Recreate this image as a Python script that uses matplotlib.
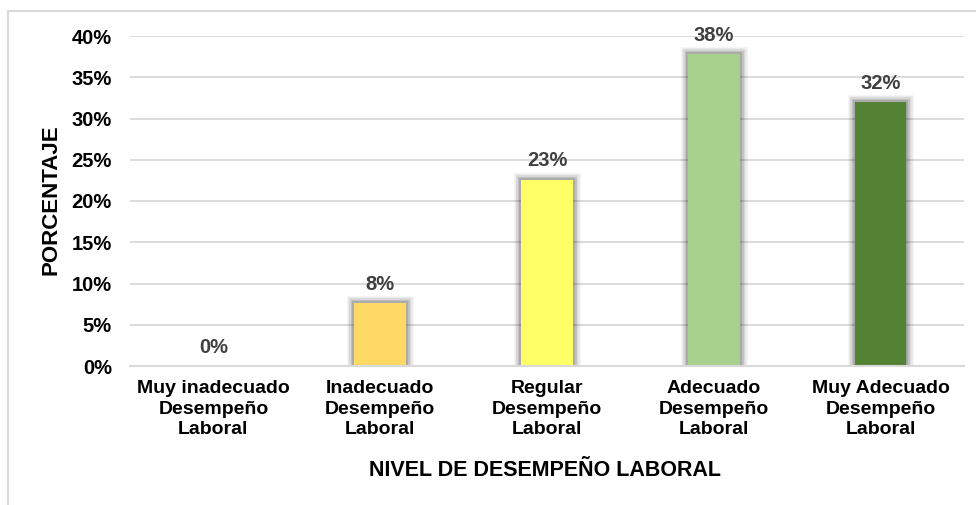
import matplotlib
matplotlib.use("Agg")
import matplotlib.pyplot as plt
import matplotlib.patheffects as pe
from matplotlib.lines import Line2D

# Survey results: job performance level distribution (%)
categories = [
    "Muy inadecuado\nDesempeño\nLaboral",
    "Inadecuado\nDesempeño\nLaboral",
    "Regular\nDesempeño\nLaboral",
    "Adecuado\nDesempeño\nLaboral",
    "Muy Adecuado\nDesempeño\nLaboral",
]
percentages = [0.0, 7.6, 22.6, 37.8, 32.0]
bar_colors = ["#FFD966", "#FFD966", "#FFFF66", "#A9D18E", "#548235"]
yticks = [0, 5, 10, 15, 20, 25, 30, 35, 40]

plt.rcParams["font.family"] = ["Liberation Sans", "DejaVu Sans"]

fig = plt.figure(figsize=(9.76, 5.05), dpi=100)
ax = fig.add_axes([130 / 976, 1 - 366 / 505, 834 / 976, 330 / 505])

x = range(len(categories))
bars = ax.bar(x, percentages, width=0.31, color=bar_colors, zorder=3)

# soft gray glow around each bar
glow = [pe.Stroke(linewidth=w, foreground="#000000", alpha=a)
        for w, a in [(11, 0.04), (9, 0.05), (7, 0.07), (5, 0.09), (3, 0.12)]]
glow.append(pe.Normal())
for b, v in zip(bars, percentages):
    if v > 0:
        b.set_path_effects(glow)
    ax.annotate(f"{v:.0f}%", (b.get_x() + b.get_width() / 2, v),
                xytext=(0, 9.5), textcoords="offset points",
                ha="center", va="baseline", fontsize=14.5,
                fontweight="bold", color="#404040", zorder=4)

ax.set_xlim(-0.5, len(categories) - 0.5)
ax.set_ylim(0, 40)
ax.set_yticks(yticks)
ax.set_yticklabels([f"{t}%" for t in yticks], fontsize=14.5, fontweight="bold")
ax.tick_params(axis="y", length=0, pad=13)
ax.set_xticks(list(x))
ax.set_xticklabels(categories, fontsize=14, fontweight="bold", linespacing=1.28)
ax.tick_params(axis="x", length=0, pad=10)

ax.grid(axis="y", color="#D9D9D9", linewidth=1.3, zorder=0)
for s in ["top", "right", "left"]:
    ax.spines[s].set_visible(False)
ax.spines["bottom"].set_color("#D9D9D9")
ax.spines["bottom"].set_linewidth(1.5)
ax.spines["bottom"].set_zorder(5)

fig.text(51 / 976, 1 - 200 / 505, "PORCENTAJE", rotation=90, ha="center",
         va="center", fontsize=16, fontweight="bold")
fig.text(545 / 976, 1 - 470 / 505, "NIVEL DE DESEMPEÑO LABORAL", ha="center",
         va="center", fontsize=15.5, fontweight="bold")

# outer chart frame
fig.add_artist(Line2D([8 / 976, 8 / 976], [0, 1 - 11 / 505],
                      transform=fig.transFigure, color="#D9D9D9", linewidth=1.5))
fig.add_artist(Line2D([8 / 976, 1], [1 - 11 / 505, 1 - 11 / 505],
                      transform=fig.transFigure, color="#D9D9D9", linewidth=1.5))

fig.savefig("out.png", dpi=100)
